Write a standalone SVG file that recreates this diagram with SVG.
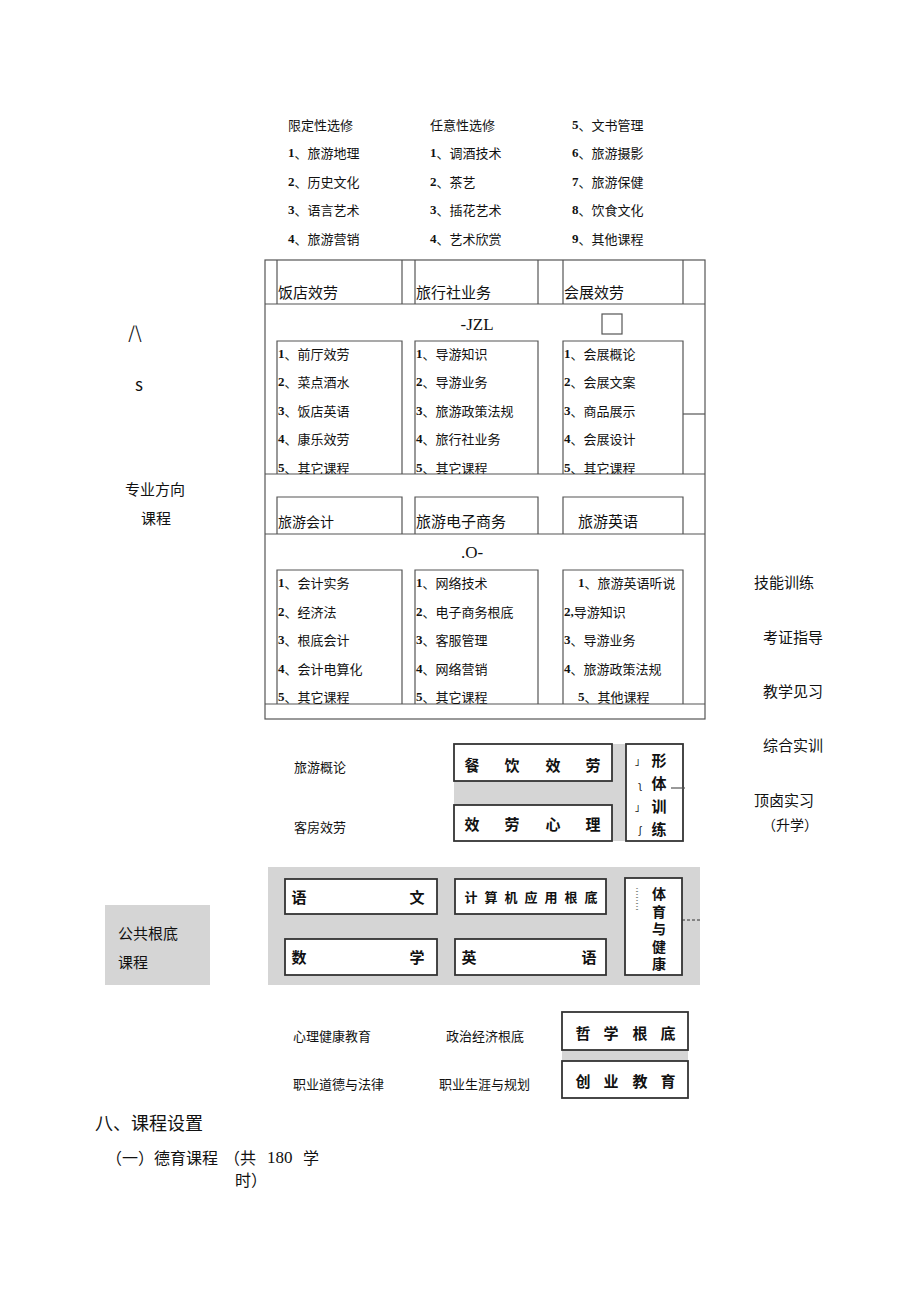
<svg xmlns="http://www.w3.org/2000/svg" width="920" height="1301" viewBox="0 0 920 1301">
<style>
text{font-family:"Noto Sans CJK SC","Liberation Sans",sans-serif;fill:#111;dominant-baseline:central}
.f13{font-size:13px}
.f14{font-size:14px}
.f15{font-size:15px}
.n{font-family:"Liberation Serif","Noto Sans CJK SC",serif;font-weight:bold}
.sr{font-family:"Liberation Serif","Noto Sans CJK SC",serif}
.b{font-weight:bold;font-size:15px}
.ln{stroke:#555;stroke-width:1.2;fill:none}
.bx2{fill:#fff;stroke:#333;stroke-width:1.8}
.gray{fill:#d5d5d5}
</style>
<defs>
<clipPath id="c1"><rect x="265" y="340" width="440" height="134"/></clipPath>
<clipPath id="c2"><rect x="265" y="569" width="440" height="135"/></clipPath>
</defs>
<rect width="920" height="1301" fill="#fff"/>

<g id="elective" class="f13">
<text x="288" y="124">限定性选修</text>
<text x="288" y="152"><tspan class="n">1</tspan>、旅游地理</text>
<text x="288" y="181"><tspan class="n">2</tspan>、历史文化</text>
<text x="288" y="209"><tspan class="n">3</tspan>、语言艺术</text>
<text x="288" y="238"><tspan class="n">4</tspan>、旅游营销</text>
<text x="430" y="124">任意性选修</text>
<text x="430" y="152"><tspan class="n">1</tspan>、调酒技术</text>
<text x="430" y="181"><tspan class="n">2</tspan>、茶艺</text>
<text x="430" y="209"><tspan class="n">3</tspan>、插花艺术</text>
<text x="430" y="238"><tspan class="n">4</tspan>、艺术欣赏</text>
<text x="572" y="124"><tspan class="n">5</tspan>、文书管理</text>
<text x="572" y="152"><tspan class="n">6</tspan>、旅游摄影</text>
<text x="572" y="181"><tspan class="n">7</tspan>、旅游保健</text>
<text x="572" y="209"><tspan class="n">8</tspan>、饮食文化</text>
<text x="572" y="238"><tspan class="n">9</tspan>、其他课程</text>
</g>

<g id="direction-frame">
<rect class="ln" x="265" y="260" width="440" height="459"/>
<line class="ln" x1="265" y1="304" x2="705" y2="304"/>
<line class="ln" x1="277" y1="260" x2="277" y2="304"/>
<line class="ln" x1="402" y1="260" x2="402" y2="304"/>
<line class="ln" x1="415" y1="260" x2="415" y2="304"/>
<line class="ln" x1="538" y1="260" x2="538" y2="304"/>
<line class="ln" x1="563" y1="260" x2="563" y2="304"/>
<line class="ln" x1="683" y1="260" x2="683" y2="304"/>
<line class="ln" x1="683" y1="414" x2="705" y2="414"/>
<line class="ln" x1="265" y1="474" x2="705" y2="474"/>
<line class="ln" x1="265" y1="534" x2="705" y2="534"/>
<line class="ln" x1="265" y1="704" x2="705" y2="704"/>
<rect class="ln" x="602" y="314" width="20" height="20"/>
<text class="sr" x="477" y="324" text-anchor="middle" font-size="17">-JZL</text>
<text class="sr" x="472" y="552" text-anchor="middle" font-size="17">.O-</text>
</g>

<g id="hotel">
<text class="f15" x="278" y="291">饭店效劳</text>
<path class="ln" d="M277,474 V341 H402 V474"/>
<g class="f13" clip-path="url(#c1)">
<text x="278" y="353"><tspan class="n">1</tspan>、前厅效劳</text>
<text x="278" y="381"><tspan class="n">2</tspan>、菜点酒水</text>
<text x="278" y="410"><tspan class="n">3</tspan>、饭店英语</text>
<text x="278" y="438"><tspan class="n">4</tspan>、康乐效劳</text>
<text x="278" y="467"><tspan class="n">5</tspan>、其它课程</text>
</g>
</g>

<g id="travel-agency">
<text class="f15" x="416" y="291">旅行社业务</text>
<path class="ln" d="M415,474 V341 H538 V474"/>
<g class="f13" clip-path="url(#c1)">
<text x="416" y="353"><tspan class="n">1</tspan>、导游知识</text>
<text x="416" y="381"><tspan class="n">2</tspan>、导游业务</text>
<text x="416" y="410"><tspan class="n">3</tspan>、旅游政策法规</text>
<text x="416" y="438"><tspan class="n">4</tspan>、旅行社业务</text>
<text x="416" y="467"><tspan class="n">5</tspan>、其它课程</text>
</g>
</g>

<g id="exhibition">
<text class="f15" x="564" y="291">会展效劳</text>
<path class="ln" d="M563,474 V341 H683 V474"/>
<g class="f13" clip-path="url(#c1)">
<text x="564" y="353"><tspan class="n">1</tspan>、会展概论</text>
<text x="564" y="381"><tspan class="n">2</tspan>、会展文案</text>
<text x="564" y="410"><tspan class="n">3</tspan>、商品展示</text>
<text x="564" y="438"><tspan class="n">4</tspan>、会展设计</text>
<text x="564" y="467"><tspan class="n">5</tspan>、其它课程</text>
</g>
</g>

<g id="accounting">
<path class="ln" d="M277,534 V497 H402 V534"/>
<text class="f14" x="278" y="521">旅游会计</text>
<path class="ln" d="M277,704 V570 H402 V704"/>
<g class="f13" clip-path="url(#c2)">
<text x="278" y="582"><tspan class="n">1</tspan>、会计实务</text>
<text x="278" y="611"><tspan class="n">2</tspan>、经济法</text>
<text x="278" y="639"><tspan class="n">3</tspan>、根底会计</text>
<text x="278" y="668"><tspan class="n">4</tspan>、会计电算化</text>
<text x="278" y="696"><tspan class="n">5</tspan>、其它课程</text>
</g>
</g>

<g id="ecommerce">
<path class="ln" d="M415,534 V497 H538 V534"/>
<text class="f15" x="416" y="520">旅游电子商务</text>
<path class="ln" d="M415,704 V570 H538 V704"/>
<g class="f13" clip-path="url(#c2)">
<text x="416" y="582"><tspan class="n">1</tspan>、网络技术</text>
<text x="416" y="611"><tspan class="n">2</tspan>、电子商务根底</text>
<text x="416" y="639"><tspan class="n">3</tspan>、客服管理</text>
<text x="416" y="668"><tspan class="n">4</tspan>、网络营销</text>
<text x="416" y="696"><tspan class="n">5</tspan>、其它课程</text>
</g>
</g>

<g id="english">
<path class="ln" d="M563,534 V497 H683 V534"/>
<text class="f15" x="578" y="520">旅游英语</text>
<path class="ln" d="M563,704 V570 H683 V704"/>
<g class="f13" clip-path="url(#c2)">
<text x="578" y="582"><tspan class="n">1</tspan>、旅游英语听说</text>
<text x="564" y="611"><tspan class="n">2,</tspan>导游知识</text>
<text x="564" y="639"><tspan class="n">3</tspan>、导游业务</text>
<text x="564" y="668"><tspan class="n">4</tspan>、旅游政策法规</text>
<text x="578" y="696"><tspan class="n">5</tspan>、其他课程</text>
</g>
</g>

<g id="left-labels" class="f15">
<text x="135" y="331" text-anchor="middle" font-family="Liberation Sans" font-size="17">/\</text>
<text x="139" y="383" text-anchor="middle" font-family="Liberation Sans" font-size="17">s</text>
<text x="125" y="488">专业方向</text>
<text x="141" y="517">课程</text>
</g>

<g id="practice" class="f15">
<text x="754" y="581">技能训练</text>
<text x="763" y="636">考证指导</text>
<text x="763" y="690">教学见习</text>
<text x="763" y="744">综合实训</text>
<text x="754" y="799">顶卤实习</text>
<text x="762" y="824" class="f14">（升学）</text>
</g>

<g id="core">
<text class="f13" x="294" y="766">旅游概论</text>
<text class="f13" x="294" y="826">客房效劳</text>
<rect class="gray" x="454" y="744" width="172" height="97"/>
<rect class="bx2" x="454" y="744" width="158" height="37"/>
<rect class="bx2" x="454" y="805" width="158" height="36"/>
<rect class="bx2" x="626" y="744" width="57" height="97"/>
<line class="ln" x1="671" y1="788" x2="685" y2="788" stroke="#222"/>
<g class="b" text-anchor="middle">
<text x="472" y="764">餐</text><text x="512" y="764">饮</text><text x="553" y="764">效</text><text x="593" y="764">劳</text>
<text x="472" y="823">效</text><text x="512" y="823">劳</text><text x="553" y="823">心</text><text x="593" y="823">理</text>
<text x="659" y="759">形</text><text x="659" y="782">体</text><text x="659" y="805">训</text><text x="659" y="828">练</text>
</g>
<g font-size="10" text-anchor="middle">
<text x="640" y="760">」</text><text x="640" y="784">ʅ</text><text x="640" y="806">」</text><text x="640" y="829">ʃ</text>
</g>
</g>

<g id="public-basic">
<rect class="gray" x="105" y="905" width="105" height="80"/>
<text class="f15" x="118" y="932">公共根底</text>
<text class="f15" x="118" y="961">课程</text>
<rect class="gray" x="268" y="867" width="432" height="118"/>
<rect class="bx2" x="285" y="879" width="152" height="35"/>
<rect class="bx2" x="285" y="939" width="152" height="36"/>
<rect class="bx2" x="455" y="879" width="151" height="35"/>
<rect class="bx2" x="455" y="939" width="151" height="36"/>
<rect class="bx2" x="625" y="878" width="57" height="97"/>
<line x1="682" y1="920" x2="700" y2="920" stroke="#333" stroke-width="1" stroke-dasharray="3,2"/>
<g class="b" text-anchor="middle">
<text x="299" y="896">语</text><text x="417" y="896">文</text>
<text x="299" y="956">数</text><text x="417" y="956">学</text>
<text x="469" y="956">英</text><text x="589" y="956">语</text>
</g>
<text font-weight="bold" font-size="14" text-anchor="middle" x="659" y="893">体<tspan x="659" dy="17.5">育</tspan><tspan x="659" dy="17.5">与</tspan><tspan x="659" dy="17.5">健</tspan><tspan x="659" dy="17.5">康</tspan></text>
<g font-weight="bold" font-size="13" text-anchor="middle">
<text x="471" y="896">计</text><text x="491" y="896">算</text><text x="511" y="896">机</text><text x="531" y="896">应</text><text x="551" y="896">用</text><text x="571" y="896">根</text><text x="591" y="896">底</text>
</g>
<g font-size="5" fill="#555" text-anchor="middle">
<text x="637" y="888">ﾆ</text><text x="637" y="894">ﾆ</text><text x="637" y="900">ﾆ</text><text x="637" y="906">ﾆ</text>
</g>
</g>

<g id="moral">
<text class="f13" x="293" y="1035">心理健康教育</text>
<text class="f13" x="446" y="1035">政治经济根底</text>
<text class="f13" x="293" y="1083">职业道德与法律</text>
<text class="f13" x="439" y="1083">职业生涯与规划</text>
<rect class="gray" x="562" y="1012" width="126" height="86"/>
<rect class="bx2" x="562" y="1012" width="126" height="38"/>
<rect class="bx2" x="562" y="1061" width="126" height="37"/>
<g class="b" text-anchor="middle">
<text x="583" y="1032">哲</text><text x="611" y="1032">学</text><text x="640" y="1032">根</text><text x="668" y="1032">底</text>
<text x="583" y="1080">创</text><text x="611" y="1080">业</text><text x="640" y="1080">教</text><text x="668" y="1080">育</text>
</g>
</g>

<g id="section-title">
<text x="95" y="1122" font-size="18">八、课程设置</text>
<text x="106" y="1157" font-size="16">（一）德育课程</text>
<text x="224" y="1157" font-size="16">（共</text>
<text x="267" y="1157" font-size="17" class="sr">180</text>
<text x="303" y="1157" font-size="16">学</text>
<text x="235" y="1179" font-size="16">时）</text>
</g>
</svg>
